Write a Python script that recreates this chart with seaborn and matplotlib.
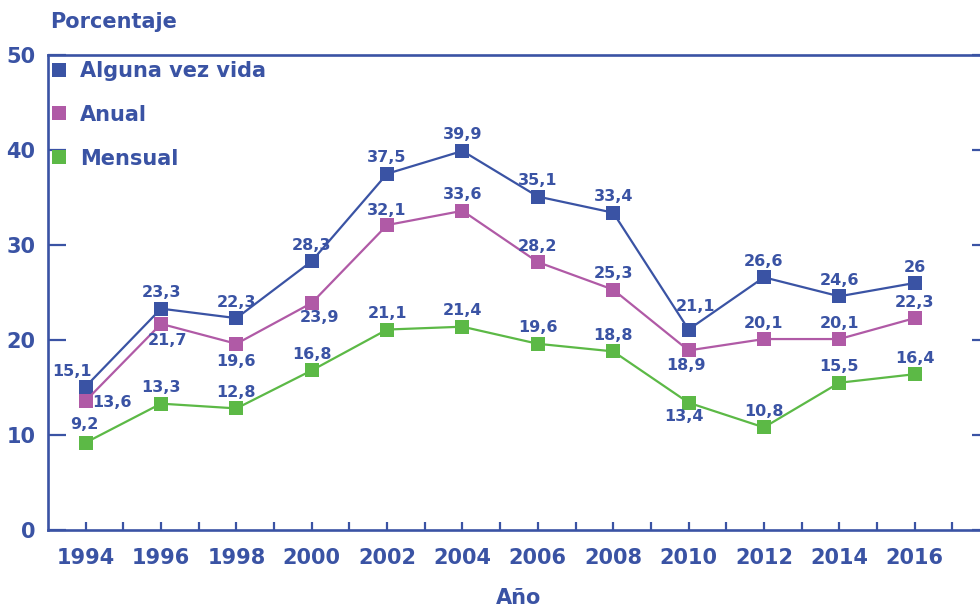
import matplotlib
matplotlib.use("Agg")
import matplotlib.pyplot as plt
import seaborn as sns
import pandas as pd
from matplotlib.lines import Line2D

years = [1994, 1996, 1998, 2000, 2002, 2004, 2006, 2008, 2010, 2012, 2014, 2016]
alguna_vez = [15.1, 23.3, 22.3, 28.3, 37.5, 39.9, 35.1, 33.4, 21.1, 26.6, 24.6, 26.0]
anual = [13.6, 21.7, 19.6, 23.9, 32.1, 33.6, 28.2, 25.3, 18.9, 20.1, 20.1, 22.3]
mensual = [9.2, 13.3, 12.8, 16.8, 21.1, 21.4, 19.6, 18.8, 13.4, 10.8, 15.5, 16.4]
series_names = ["Alguna vez vida", "Anual", "Mensual"]
y_ticks = [0, 10, 20, 30, 40, 50]

BLUE = "#3a53a4"
MAGENTA = "#b05aa6"
GREEN = "#5cb946"
colors = {"Alguna vez vida": BLUE, "Anual": MAGENTA, "Mensual": GREEN}

sns.set_style("white")
plt.rcParams["font.family"] = ["DejaVu Sans"]
plt.rcParams["font.weight"] = "bold"

df = pd.DataFrame({
    "Año": years * 3,
    "Porcentaje": alguna_vez + anual + mensual,
    "Serie": [series_names[0]] * len(years) + [series_names[1]] * len(years) + [series_names[2]] * len(years),
})

fig = plt.figure(figsize=(9.8, 6.06), dpi=100)
ax = fig.add_axes([48 / 980, 76 / 606, 942 / 980, 475 / 606])

sns.lineplot(data=df, x="Año", y="Porcentaje", hue="Serie", palette=colors,
             marker="s", markersize=9.5, markeredgewidth=0, linewidth=1.6,
             legend=False, ax=ax)

ax.set_xlim(1993, 2018)
ax.set_ylim(0, 50)

for s in ["left", "right", "top", "bottom"]:
    ax.spines[s].set_color(BLUE)
    ax.spines[s].set_linewidth(1.9)

ax.set_yticks(y_ticks)
ax.set_yticklabels([str(v) for v in y_ticks])
ax.tick_params(axis="y", which="major", direction="in", length=13, width=1.6,
               color=BLUE, labelcolor=BLUE, labelsize=15, pad=9,
               left=True, right=True)
ax.set_xticks(years)
ax.set_xticklabels([str(y) for y in years])
ax.set_xticks(list(range(1995, 2018, 2)), minor=True)
ax.tick_params(axis="x", which="both", direction="in", length=6, width=1.6,
               color=BLUE, labelcolor=BLUE, labelsize=15, pad=13,
               bottom=True, top=False)
for lbl in ax.get_xticklabels() + ax.get_yticklabels():
    lbl.set_fontweight("bold")

ax.set_xlabel("Año", color=BLUE, fontsize=15, fontweight="bold", labelpad=14)
ax.set_ylabel("")
fig.text(50 / 980, 1 - 22 / 606, "Porcentaje", color=BLUE, fontsize=15,
         fontweight="bold", ha="left", va="center")

# label placements (pixel offsets dx, dy; positive dy = up)
offsets = {
    "Alguna vez vida": [(-14, 15)] + [(0, 16)] * 7 + [(7, 23)] + [(0, 16)] * 3,
    "Anual": [(26, -2), (6, -17), (0, -18), (8, -15), (0, 15), (0, 16), (0, 16),
              (0, 16), (-3, -15), (0, 16), (0, 16), (0, 16)],
    "Mensual": [(-1, 18)] + [(0, 16)] * 7 + [(-5, -14)] + [(0, 16)] * 3,
}
vals = {"Alguna vez vida": alguna_vez, "Anual": anual, "Mensual": mensual}
for name in series_names:
    for x, v, (dx, dy) in zip(years, vals[name], offsets[name]):
        txt = f"{v:g}".replace(".", ",")
        ax.annotate(txt, (x, v), xytext=(dx, dy), textcoords="offset pixels",
                    ha="center", va="center", color=BLUE, fontsize=11.5,
                    fontweight="bold")

handles = [Line2D([], [], linestyle="none", marker="s", markersize=9.5,
                  markeredgewidth=0, color=colors[n]) for n in series_names]
leg = ax.legend(handles, series_names, loc="upper left",
                bbox_to_anchor=(-0.0106, 1.018), frameon=False, fontsize=15,
                handlelength=0.6, handletextpad=0.7, labelspacing=1.14,
                borderaxespad=0.3)
for t in leg.get_texts():
    t.set_color(BLUE)
    t.set_fontweight("bold")

fig.savefig("out.png", dpi=100)
